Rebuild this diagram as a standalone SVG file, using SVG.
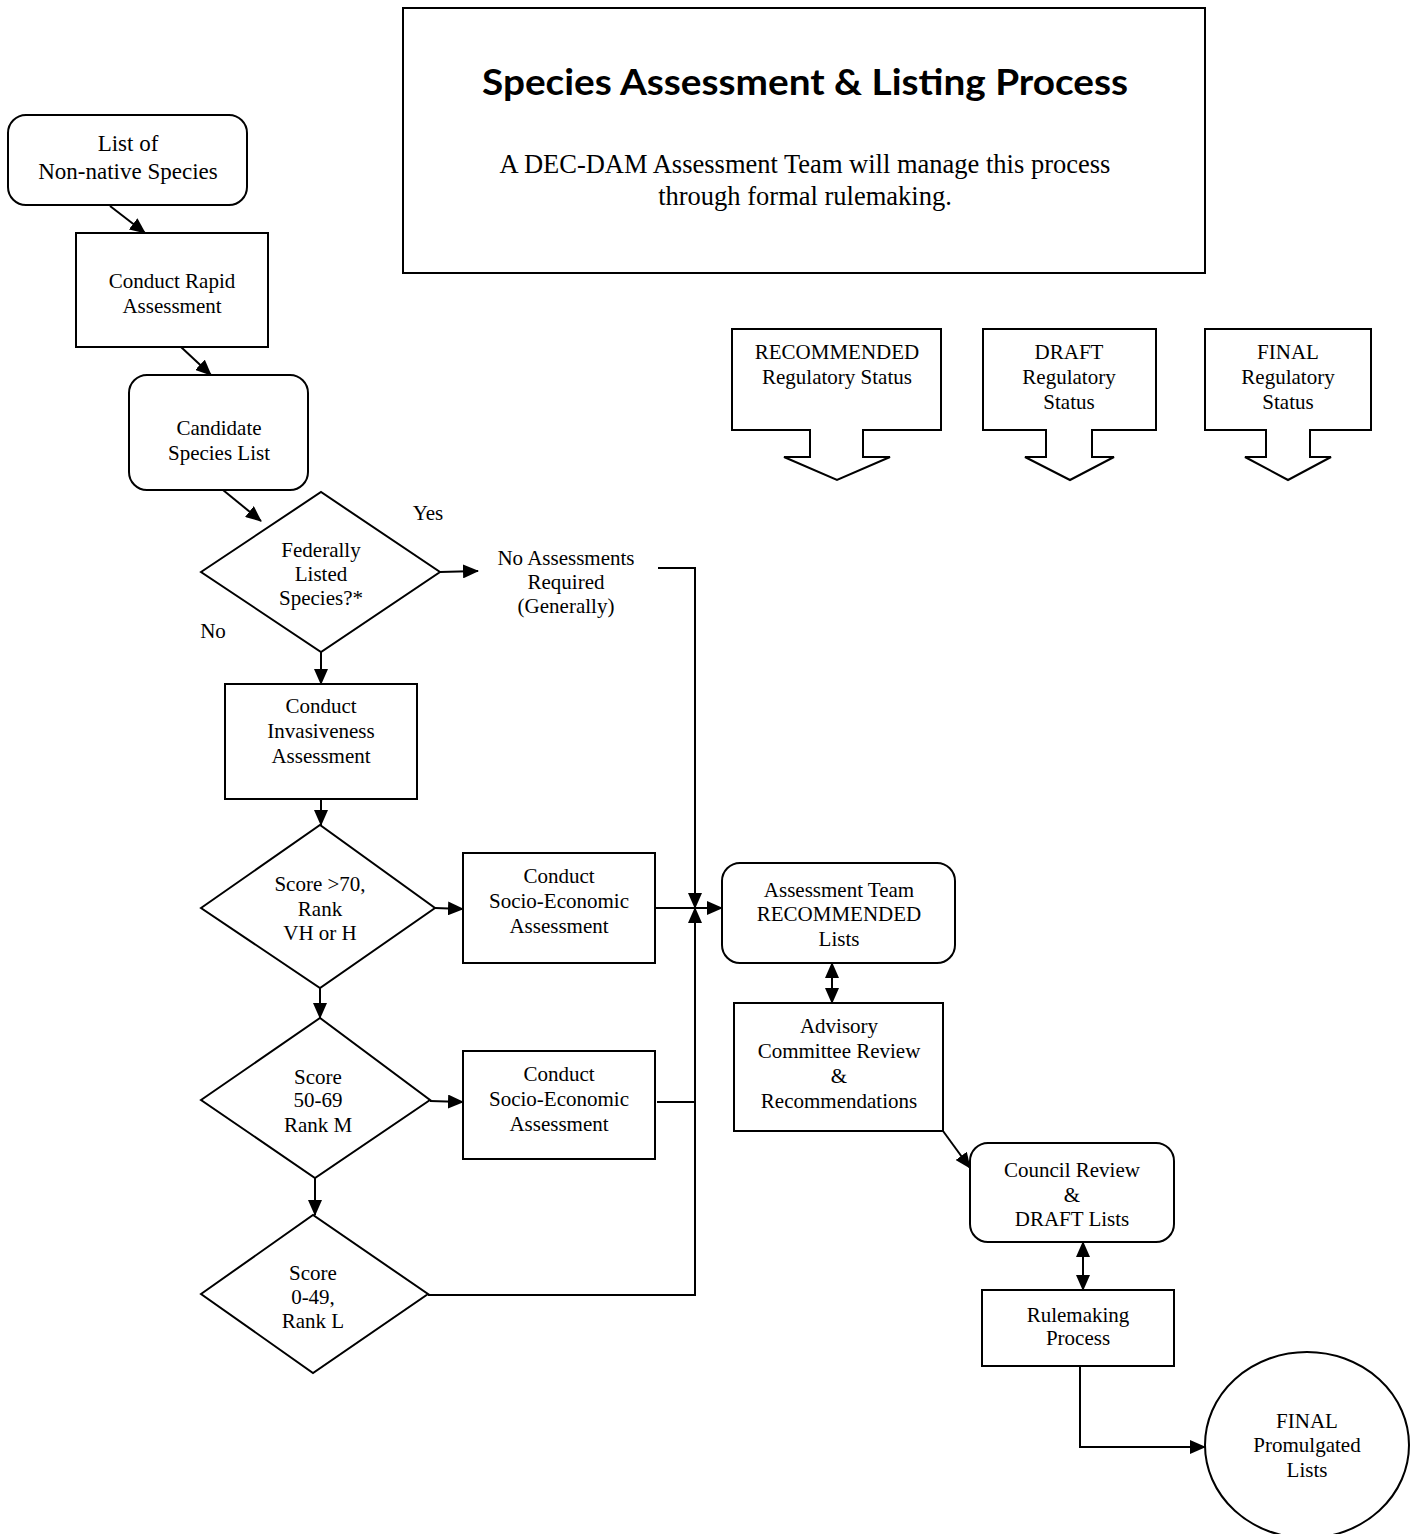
<svg xmlns="http://www.w3.org/2000/svg" width="1411" height="1534" viewBox="0 0 1411 1534">
<style>
  .shape { fill: #fff; stroke: #000; stroke-width: 2; }
  .t { font-family: "Liberation Serif", "Times New Roman", serif; font-size: 21px; fill: #000; text-anchor: middle; }
  .big { font-size: 23px; }
  .sub { font-size: 26.5px; }
  .title { font-family: Lato, "DejaVu Sans", sans-serif; font-weight: bold; font-size: 36px; fill: #000; text-anchor: middle; }
  .conn { fill: none; stroke: #000; stroke-width: 2; }
</style>
<defs>
  <marker id="ah" viewBox="0 0 16 14" refX="15" refY="7" markerWidth="16" markerHeight="14" markerUnits="userSpaceOnUse" orient="auto-start-reverse">
    <path d="M0,0 L16,7 L0,14 z" fill="#000"/>
  </marker>
</defs>
<rect width="1411" height="1534" fill="#fff"/>

<g id="title-box">
  <rect class="shape" x="403" y="8" width="802" height="265"/>
  <text class="title" x="805" y="95" textLength="646" lengthAdjust="spacingAndGlyphs">Species Assessment &amp; Listing Process</text>
  <text class="t sub" x="805" y="173">A DEC-DAM Assessment Team will manage this process</text>
  <text class="t sub" x="805" y="205">through formal rulemaking.</text>
</g>

<g id="status-recommended">
  <path class="shape" d="M732,329 H941 V430 H863 V457 H890 L837,480 L784,457 H810 V430 H732 Z"/>
  <text class="t" x="837" y="359">RECOMMENDED</text>
  <text class="t" x="837" y="384">Regulatory Status</text>
</g>
<g id="status-draft">
  <path class="shape" d="M983,329 H1156 V430 H1092 V457 H1114 L1070,480 L1025,457 H1046 V430 H983 Z"/>
  <text class="t" x="1069" y="359">DRAFT</text>
  <text class="t" x="1069" y="384">Regulatory</text>
  <text class="t" x="1069" y="409">Status</text>
</g>
<g id="status-final">
  <path class="shape" d="M1205,329 H1371 V430 H1310 V457 H1331 L1288,480 L1245,457 H1266 V430 H1205 Z"/>
  <text class="t" x="1288" y="359">FINAL</text>
  <text class="t" x="1288" y="384">Regulatory</text>
  <text class="t" x="1288" y="409">Status</text>
</g>

<g id="connectors">
  <line class="conn" x1="110" y1="206" x2="145" y2="233" marker-end="url(#ah)"/>
  <line class="conn" x1="181" y1="347" x2="211" y2="375" marker-end="url(#ah)"/>
  <line class="conn" x1="223" y1="490" x2="261" y2="521" marker-end="url(#ah)"/>
  <line class="conn" x1="440" y1="572" x2="478" y2="571" marker-end="url(#ah)"/>
  <polyline class="conn" points="658,568 695,568 695,908" marker-end="url(#ah)"/>
  <line class="conn" x1="321" y1="652" x2="321" y2="684" marker-end="url(#ah)"/>
  <line class="conn" x1="321" y1="799" x2="321" y2="825" marker-end="url(#ah)"/>
  <line class="conn" x1="435" y1="908" x2="463" y2="909" marker-end="url(#ah)"/>
  <line class="conn" x1="655" y1="908" x2="722" y2="908" marker-end="url(#ah)"/>
  <line class="conn" x1="320" y1="988" x2="320" y2="1018" marker-end="url(#ah)"/>
  <line class="conn" x1="430" y1="1101" x2="463" y2="1102" marker-end="url(#ah)"/>
  <line class="conn" x1="657" y1="1102" x2="695" y2="1102"/>
  <line class="conn" x1="315" y1="1178" x2="315" y2="1215" marker-end="url(#ah)"/>
  <polyline class="conn" points="428,1295 695,1295 695,908" marker-end="url(#ah)"/>
  <line class="conn" x1="832" y1="963" x2="832" y2="1003" marker-start="url(#ah)" marker-end="url(#ah)"/>
  <line class="conn" x1="943" y1="1131" x2="970" y2="1168" marker-end="url(#ah)"/>
  <line class="conn" x1="1083" y1="1242" x2="1083" y2="1290" marker-start="url(#ah)" marker-end="url(#ah)"/>
  <polyline class="conn" points="1080,1366 1080,1447 1205,1447" marker-end="url(#ah)"/>
</g>

<g id="list-nonnative">
  <rect class="shape" x="8" y="115" width="239" height="90" rx="18"/>
  <text class="t big" x="128" y="151">List of</text>
  <text class="t big" x="128" y="179">Non-native Species</text>
</g>
<g id="rapid-assessment">
  <rect class="shape" x="76" y="233" width="192" height="114"/>
  <text class="t" x="172" y="288">Conduct Rapid</text>
  <text class="t" x="172" y="313">Assessment</text>
</g>
<g id="candidate-list">
  <rect class="shape" x="129" y="375" width="179" height="115" rx="18"/>
  <text class="t" x="219" y="435">Candidate</text>
  <text class="t" x="219" y="460">Species List</text>
</g>
<g id="federally-listed">
  <polygon class="shape" points="201,572 321,492 440,572 321,652"/>
  <text class="t" x="321" y="557">Federally</text>
  <text class="t" x="321" y="581">Listed</text>
  <text class="t" x="321" y="605">Species?*</text>
</g>
<g id="labels">
  <text class="t" x="428" y="520">Yes</text>
  <text class="t" x="213" y="638">No</text>
</g>
<g id="no-assessments">
  <text class="t" x="566" y="565">No Assessments</text>
  <text class="t" x="566" y="589">Required</text>
  <text class="t" x="566" y="613">(Generally)</text>
</g>
<g id="invasiveness">
  <rect class="shape" x="225" y="684" width="192" height="115"/>
  <text class="t" x="321" y="713">Conduct</text>
  <text class="t" x="321" y="738">Invasiveness</text>
  <text class="t" x="321" y="763">Assessment</text>
</g>
<g id="score-high">
  <polygon class="shape" points="201,908 320,825 435,908 320,988"/>
  <text class="t" x="320" y="891">Score &gt;70,</text>
  <text class="t" x="320" y="916">Rank</text>
  <text class="t" x="320" y="940">VH or H</text>
</g>
<g id="socio-1">
  <rect class="shape" x="463" y="853" width="192" height="110"/>
  <text class="t" x="559" y="883">Conduct</text>
  <text class="t" x="559" y="908">Socio-Economic</text>
  <text class="t" x="559" y="933">Assessment</text>
</g>
<g id="score-medium">
  <polygon class="shape" points="201,1100 320,1018 430,1100 315,1178"/>
  <text class="t" x="318" y="1084">Score</text>
  <text class="t" x="318" y="1107">50-69</text>
  <text class="t" x="318" y="1132">Rank  M</text>
</g>
<g id="socio-2">
  <rect class="shape" x="463" y="1051" width="192" height="108"/>
  <text class="t" x="559" y="1081">Conduct</text>
  <text class="t" x="559" y="1106">Socio-Economic</text>
  <text class="t" x="559" y="1131">Assessment</text>
</g>
<g id="score-low">
  <polygon class="shape" points="201,1294 313,1215 428,1294 313,1373"/>
  <text class="t" x="313" y="1280">Score</text>
  <text class="t" x="313" y="1304">0-49,</text>
  <text class="t" x="313" y="1328">Rank L</text>
</g>
<g id="assessment-team">
  <rect class="shape" x="722" y="863" width="233" height="100" rx="18"/>
  <text class="t" x="839" y="897">Assessment Team</text>
  <text class="t" x="839" y="921">RECOMMENDED</text>
  <text class="t" x="839" y="946">Lists</text>
</g>
<g id="advisory-committee">
  <rect class="shape" x="734" y="1003" width="209" height="128"/>
  <text class="t" x="839" y="1033">Advisory</text>
  <text class="t" x="839" y="1058">Committee Review</text>
  <text class="t" x="839" y="1083">&amp;</text>
  <text class="t" x="839" y="1108">Recommendations</text>
</g>
<g id="council-review">
  <rect class="shape" x="970" y="1143" width="204" height="99" rx="18"/>
  <text class="t" x="1072" y="1177">Council Review</text>
  <text class="t" x="1072" y="1202">&amp;</text>
  <text class="t" x="1072" y="1226">DRAFT Lists</text>
</g>
<g id="rulemaking">
  <rect class="shape" x="982" y="1290" width="192" height="76"/>
  <text class="t" x="1078" y="1322">Rulemaking</text>
  <text class="t" x="1078" y="1345">Process</text>
</g>
<g id="final-lists">
  <ellipse class="shape" cx="1307" cy="1445" rx="102" ry="93"/>
  <text class="t" x="1307" y="1428">FINAL</text>
  <text class="t" x="1307" y="1452">Promulgated</text>
  <text class="t" x="1307" y="1477">Lists</text>
</g>
</svg>
